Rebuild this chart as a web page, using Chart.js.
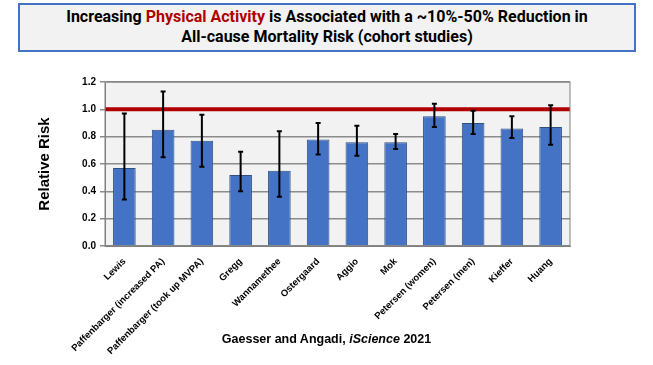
<!DOCTYPE html>
<html>
<head>
<meta charset="utf-8">
<script src="https://cdn.jsdelivr.net/npm/chart.js@4"></script>
<style>
  body { margin: 0; background: #fff; }
  #wrap { position: relative; width: 653px; height: 365px; }
  #chart { position: absolute; left: 0; top: 0; }
  #title {
    position: absolute; left: 18px; top: 3px; width: 614px; height: 43px;
    border: 2px solid #4472C4; background: #F2F2F2;
    font-family: Roboto, sans-serif; font-weight: 700; font-size: 16px;
    line-height: 20px; text-align: center; padding-top: 2px; color: #000;
  }
  #title .red { color: #B00000; }
  #source {
    position: absolute; left: 0; width: 653px; top: 332px; text-align: center;
    font-family: "Liberation Sans", Arial, sans-serif; font-weight: 700; font-size: 12.5px;
  }
</style>
</head>
<body>
<div id="wrap">
  <canvas id="chart" width="653" height="365"></canvas>
  <div id="title">Increasing <span class="red">Physical Activity</span> is Associated with a ~10%-50% Reduction in<br>All-cause Mortality Risk (cohort studies)</div>
  <div id="source">Gaesser and Angadi, <i>iScience</i> 2021</div>
</div>
<script>
const studies = ['Lewis', 'Paffenbarger (increased PA)', 'Paffenbarger (took up MVPA)', 'Gregg', 'Wannamethee',
    'Ostergaard', 'Aggio', 'Mok', 'Petersen (women)', 'Petersen (men)', 'Kieffer', 'Huang'];
const relRisk = [0.57, 0.85, 0.77, 0.52, 0.55, 0.78, 0.76, 0.76, 0.95, 0.90, 0.86, 0.87];
const ciLow = [0.34, 0.65, 0.58, 0.40, 0.36, 0.67, 0.66, 0.71, 0.87, 0.82, 0.79, 0.74];
const ciHigh = [0.97, 1.13, 0.96, 0.69, 0.84, 0.90, 0.88, 0.82, 1.04, 0.99, 0.95, 1.03];
const refValue = 1.0;

// plot background + border, reference line and error bars
const extras = {
    id: 'extras',
    beforeDraw(chart) {
        const a = chart.chartArea, c = chart.ctx;
        c.save();
        c.fillStyle = '#F2F2F2';
        c.fillRect(a.left, a.top, a.right - a.left, a.bottom - a.top);
        c.restore();
    },
    afterDatasetsDraw(chart) {
        const a = chart.chartArea, c = chart.ctx;
        const x = chart.scales.x, y = chart.scales.y;
        c.save();
        c.strokeStyle = '#B00000';
        c.lineWidth = 4;
        c.beginPath();
        c.moveTo(a.left, y.getPixelForValue(refValue));
        c.lineTo(a.right, y.getPixelForValue(refValue));
        c.stroke();

        c.strokeStyle = '#000';
        c.lineWidth = 2;
        studies.forEach((s, i) => {
            const px = x.getPixelForValue(i);
            const lo = y.getPixelForValue(ciLow[i]);
            const hi = y.getPixelForValue(ciHigh[i]);
            c.beginPath();
            c.moveTo(px, lo); c.lineTo(px, hi);
            c.moveTo(px - 2.5, lo); c.lineTo(px + 2.5, lo);
            c.moveTo(px - 2.5, hi); c.lineTo(px + 2.5, hi);
            c.stroke();
        });

        c.strokeStyle = '#808080';
        c.lineWidth = 1;
        c.strokeRect(a.left, a.top, a.right - a.left, a.bottom - a.top);
        c.restore();
    }
};

const ctx = document.getElementById('chart').getContext('2d');
new Chart(ctx, {
    type: 'bar',
    data: {
        labels: studies,
        datasets: [{
            data: relRisk,
            backgroundColor: '#4472C4',
            borderColor: '#2F4F80',
            borderWidth: 1,
            categoryPercentage: 0.8,
            barPercentage: 0.73
        }]
    },
    options: {
        responsive: false,
        animation: false,
        layout: { padding: { left: 32, top: 82, right: 83, bottom: 0 } },
        plugins: {
            legend: { display: false },
            tooltip: { enabled: false }
        },
        scales: {
            y: {
                min: 0,
                max: 1.2,
                ticks: {
                    stepSize: 0.2,
                    padding: 4,
                    color: '#000',
                    font: { family: 'Liberation Sans', weight: 'bold', size: 10 },
                    callback: v => v.toFixed(1)
                },
                grid: { color: '#8C8C8C', lineWidth: 1.5, tickLength: 5, drawTicks: true },
                border: { color: '#808080' },
                title: {
                    display: true,
                    text: 'Relative Risk',
                    color: '#000',
                    padding: { top: 4, bottom: 0 },
                    font: { family: 'Liberation Sans', weight: 'bold', size: 15 }
                },
                afterFit(scale) { scale.width = 73; }
            },
            x: {
                ticks: {
                    minRotation: 45,
                    maxRotation: 45,
                    autoSkip: false,
                    padding: 2,
                    color: '#000',
                    font: { family: 'Liberation Sans', weight: 'bold', size: 9.5 }
                },
                grid: { display: false },
                border: { color: '#808080' },
                afterFit(scale) { scale.height = 119; }
            }
        }
    },
    plugins: [extras]
});
</script>
</body>
</html>
